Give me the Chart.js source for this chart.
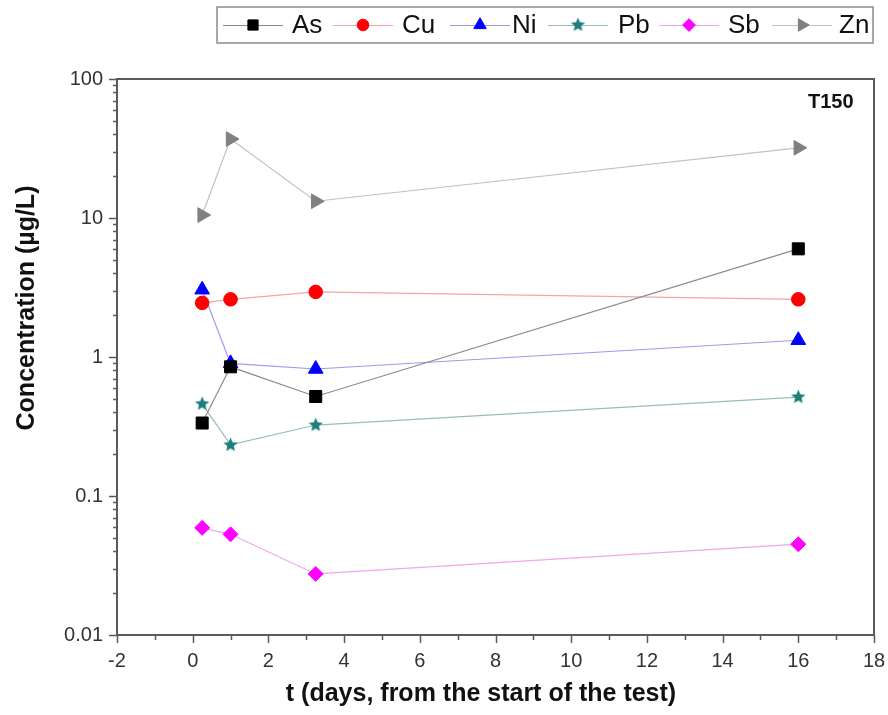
<!DOCTYPE html>
<html>
<head>
<meta charset="utf-8">
<script src="https://cdn.jsdelivr.net/npm/chart.js@4.4.0/dist/chart.umd.min.js"></script>
<style>
  html, body { margin: 0; padding: 0; background: #fff; }
  #wrap { width: 888px; height: 715px; }
</style>
</head>
<body>
<div id="wrap"><canvas id="c" width="888" height="715"></canvas></div>
<script>
// data (T150)
const days = [0.25, 1, 3.25, 16];
const asVals = [0.335, 0.85, 0.52, 6.0];
const cuVals = [2.45, 2.6, 2.94, 2.6];
const niVals = [3.05, 0.9, 0.82, 1.32];
const pbVals = [0.46, 0.233, 0.324, 0.515];
const sbVals = [0.059, 0.053, 0.0275, 0.045];
const znVals = [10.5, 37, 13.2, 32];
const xTickVals = [-2, 0, 2, 4, 6, 8, 10, 12, 14, 16, 18];
const yTickVals = [0.01, 0.1, 1, 10, 100];

const FONT = "'Liberation Sans', Arial, sans-serif";

// filled five point star used for Pb
function makeStar(color, r) {
  const c = document.createElement('canvas');
  c.width = c.height = r * 2 + 2;
  const g = c.getContext('2d');
  const cx = r + 1, cy = r + 1;
  g.beginPath();
  for (let i = 0; i < 10; i++) {
    const rad = i % 2 === 0 ? r : r * 0.45;
    const a = -Math.PI / 2 + i * Math.PI / 5;
    const px = cx + rad * Math.cos(a), py = cy + rad * Math.sin(a);
    if (i === 0) g.moveTo(px, py); else g.lineTo(px, py);
  }
  g.closePath();
  g.fillStyle = color;
  g.fill();
  return c;
}
const starImg = makeStar('#1d7f7a', 7.5);

function series(label, vals, marker, line, style, radius, rotation) {
  return {
    label: label,
    data: days.map((d, i) => ({ x: d, y: vals[i] })),
    borderColor: line,
    backgroundColor: marker,
    borderWidth: 1.2,
    pointStyle: style,
    pointRadius: radius,
    pointRotation: rotation || 0,
    pointBackgroundColor: marker,
    pointBorderColor: marker,
    pointBorderWidth: 1,
    tension: 0
  };
}

const datasets = [
  series('As', asVals, '#000000', '#8a8a8a', 'rect', 8.5),
  series('Cu', cuVals, '#ff0000', '#f3a4a4', 'circle', 6.8),
  series('Ni', niVals, '#0000ff', '#9a9af0', 'triangle', 8.5),
  series('Pb', pbVals, '#1d7f7a', '#98bdb6', starImg, 7.5),
  series('Sb', sbVals, '#ff00ff', '#f0a6ee', 'rectRot', 7.5),
  series('Zn', znVals, '#808080', '#c4c4b4', 'triangle', 8.5, 90)
];

// legend positions (marker centre, text start)
const legendPos = [[253, 292], [363, 402], [480, 512], [578, 618], [689, 728], [802, 839]];

const framePlugin = {
  id: 'frame',
  afterDatasetsDraw(chart) {
    const ctx = chart.ctx;
    const a = chart.chartArea;
    const xs = chart.scales.x, ys = chart.scales.y;
    ctx.save();
    ctx.strokeStyle = '#5a5a5a';
    ctx.lineWidth = 2;
    ctx.strokeRect(a.left, a.top, a.right - a.left, a.bottom - a.top);
    ctx.lineWidth = 1.5;
    ctx.beginPath();
    // x ticks: labelled every 2, minor every 1
    for (let v = -2; v <= 18; v++) {
      const px = Math.round(xs.getPixelForValue(v)) + 0.5;
      const len = v % 2 === 0 ? 8 : 5;
      ctx.moveTo(px, a.bottom);
      ctx.lineTo(px, a.bottom + len);
    }
    // y ticks: decades long, 2..9 short
    for (let e = -2; e <= 2; e++) {
      for (let m = 1; m <= 9; m++) {
        const v = m * Math.pow(10, e);
        if (v > 100) break;
        const py = Math.round(ys.getPixelForValue(v)) + 0.5;
        const len = m === 1 ? 8 : 4;
        ctx.moveTo(a.left, py);
        ctx.lineTo(a.left - len, py);
      }
    }
    ctx.stroke();
    ctx.fillStyle = '#111';
    // panel label
    ctx.font = 'bold 20px ' + FONT;
    ctx.textAlign = 'left';
    ctx.textBaseline = 'middle';
    ctx.fillText('T150', 808, 102);
    // axis titles
    ctx.font = 'bold 25px ' + FONT;
    ctx.textAlign = 'center';
    ctx.fillText('t (days, from the start of the test)', 481, 694);
    ctx.save();
    ctx.translate(27, 308);
    ctx.rotate(-Math.PI / 2);
    ctx.fillText('Concentration (\u00b5g/L)', 0, 0);
    ctx.restore();
    ctx.restore();
  },
  afterDraw(chart) {
    const ctx = chart.ctx;
    ctx.save();
    ctx.fillStyle = '#ffffff';
    ctx.strokeStyle = '#8c8c8c';
    ctx.lineWidth = 1.5;
    ctx.fillRect(217, 7, 656, 36);
    ctx.strokeRect(217, 7, 656, 36);
    ctx.font = '26px ' + FONT;
    ctx.textBaseline = 'middle';
    ctx.textAlign = 'left';
    const cy = 25;
    chart.data.datasets.forEach((ds, i) => {
      const mx = legendPos[i][0], tx = legendPos[i][1];
      ctx.strokeStyle = ds.borderColor;
      ctx.lineWidth = 1;
      ctx.beginPath();
      ctx.moveTo(mx - 30, cy + 0.5);
      ctx.lineTo(mx + 30, cy + 0.5);
      ctx.stroke();
      ctx.fillStyle = ds.pointBackgroundColor;
      ctx.strokeStyle = ds.pointBorderColor;
      Chart.helpers.drawPoint(ctx, {
        pointStyle: ds.pointStyle,
        radius: ds.pointRadius * 0.85,
        rotation: ds.pointRotation,
        borderWidth: 1
      }, mx, cy);
      ctx.fillStyle = '#111';
      ctx.fillText(ds.label, tx, cy + 1);
    });
    ctx.restore();
  }
};

new Chart(document.getElementById('c'), {
  type: 'line',
  data: { datasets: datasets },
  options: {
    responsive: false,
    animation: false,
    layout: { padding: { top: 79, right: 14, left: 0, bottom: 0 } },
    plugins: { legend: { display: false }, tooltip: { enabled: false } },
    scales: {
      x: {
        type: 'linear',
        min: -2,
        max: 18,
        afterBuildTicks(scale) { scale.ticks = xTickVals.map(v => ({ value: v })); },
        afterFit(scale) {
          scale.height = 80;
          scale.paddingLeft = 0;
          scale.paddingRight = 0;
        },
        grid: { display: false, drawTicks: false, tickLength: 0 },
        border: { display: false },
        ticks: {
          padding: 14,
          color: '#333',
          font: { family: FONT, size: 20 },
          maxRotation: 0,
          autoSkip: false
        }
      },
      y: {
        type: 'logarithmic',
        min: 0.01,
        max: 100,
        afterBuildTicks(scale) { scale.ticks = yTickVals.map(v => ({ value: v })); },
        afterFit(scale) {
          scale.width = 117;
          scale.paddingTop = 0;
          scale.paddingBottom = 0;
        },
        grid: { display: false, drawTicks: false, tickLength: 0 },
        border: { display: false },
        ticks: {
          padding: 14,
          color: '#333',
          font: { family: FONT, size: 20 },
          autoSkip: false,
          callback: v => String(v)
        }
      }
    }
  },
  plugins: [framePlugin]
});
</script>
</body>
</html>
